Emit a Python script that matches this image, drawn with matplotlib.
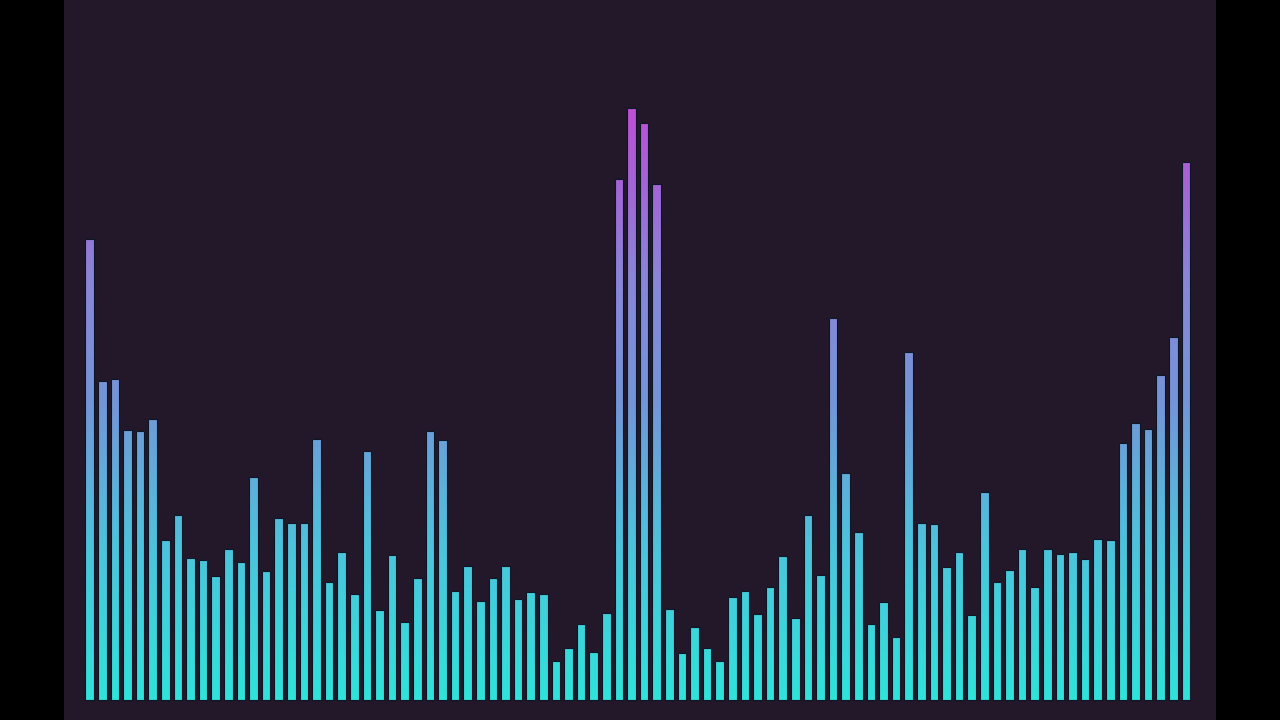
import numpy as np
import matplotlib
matplotlib.use("Agg")
from matplotlib import pyplot as plt
from matplotlib.colors import LinearSegmentedColormap

# alturas de las barras del espectro (en pixeles)
alturas = [461, 319, 321, 270, 269, 281, 160, 185, 142, 140,
           124, 151, 138, 223, 129, 182, 177, 177, 261, 118,
           148, 106, 249, 90, 145, 78, 122, 269, 260, 109,
           134, 99, 122, 134, 101, 108, 106, 39, 52, 76,
           48, 87, 521, 592, 577, 516, 91, 47, 73, 52,
           39, 103, 109, 86, 113, 144, 82, 185, 125, 382,
           227, 168, 76, 98, 63, 348, 177, 176, 133, 148,
           85, 208, 118, 130, 151, 113, 151, 146, 148, 141,
           161, 160, 257, 277, 271, 325, 363, 538]
posiciones = np.arange(len(alturas))

colorFondo = "#221829"
colorBorde = "#0d1626"
gradiente = LinearSegmentedColormap.from_list(
    "espectro",
    [(0.0, "#2fe3da"), (0.25, "#4cc4dc"), (0.5, "#7495d8"),
     (0.7, "#8a86d8"), (0.85, "#a267d7"), (1.0, "#c24cd6")])

figura = plt.figure(figsize=(12.8, 7.2), dpi=100, facecolor="black")
ejes = figura.add_axes([64/1280, 0, 1152/1280, 1])
ejes.set_facecolor(colorFondo)

anchoBarra = 0.69
barras = ejes.bar(posiciones, alturas, width=anchoBarra, bottom=0,
                  color="none", edgecolor=colorBorde, linewidth=0.8, zorder=3)

# gradiente vertical recortado a cada barra
valoresGradiente = np.linspace(0, 1, 256).reshape(-1, 1)
for barra in barras:
    x0 = barra.get_x()
    imagen = ejes.imshow(valoresGradiente, cmap=gradiente, origin="lower",
                         extent=[x0, x0 + anchoBarra, 0, 600],
                         aspect="auto", zorder=2, interpolation="bilinear")
    imagen.set_clip_path(barra)

ejes.set_xlim(-2.04, 89.39)
ejes.set_ylim(-20, 700)
ejes.set_xticks([])
ejes.set_yticks([])
for lado in ejes.spines.values():
    lado.set_visible(False)

plt.savefig("out.png", dpi=100, facecolor="black")
